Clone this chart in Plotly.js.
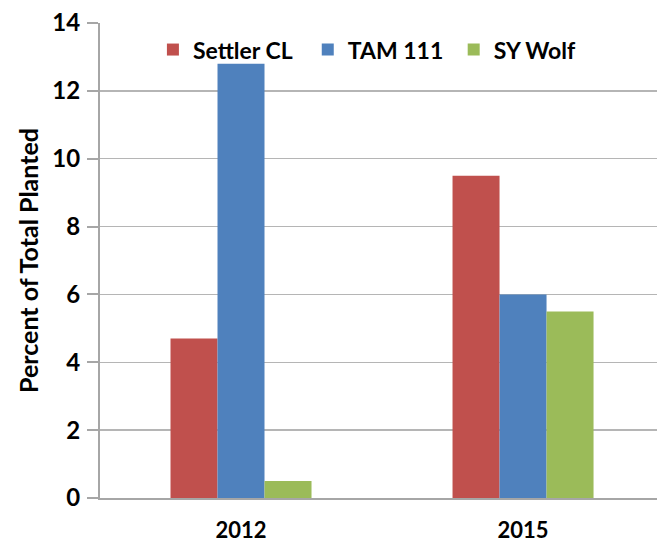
<!DOCTYPE html>
<html>
<head>
<meta charset="utf-8">
<script src="https://cdn.plot.ly/plotly-3.0.1.min.js"></script>
<style>html,body{margin:0;padding:0;background:#fff;}#chart{width:657px;height:546px;}</style>
</head>
<body>
<div id="chart"></div>
<script>
const years = ["2012", "2015"];
const seriesNames = ["Settler CL", "TAM 111", "SY Wolf"];
const settlerCL = [4.7, 9.5];
const tam111 = [12.8, 6.0];
const syWolf = [0.5, 5.5];
const colors = ["#C0504D", "#4F81BD", "#9BBB59"];
const yTicks = [0, 2, 4, 6, 8, 10, 12, 14];

const font = "Lato, 'Open Sans', sans-serif";
const values = [settlerCL, tam111, syWolf];
const legendIds = ["legend", "legend2", "legend3"];
const legendX = [0.095, 0.373, 0.635];

const traces = seriesNames.map((name, i) => ({
  type: "bar",
  name: name,
  x: years,
  y: values[i],
  legend: legendIds[i],
  marker: {color: colors[i], line: {width: 0}},
  hoverinfo: "x+y+name"
}));

const layout = {
  width: 657, height: 546,
  margin: {l: 100, r: 0, t: 23, b: 48},
  paper_bgcolor: "#fff", plot_bgcolor: "#fff",
  barmode: "group",
  bargap: 0.5,
  bargroupgap: 0,
  font: {family: font, color: "#000"},
  showlegend: true,
  xaxis: {
    type: "category",
    range: [-0.5, 1.475],
    showline: true, linecolor: "#a6a6a6", linewidth: 2,
    showgrid: false, ticks: "", zeroline: false,
    tickfont: {family: font, size: 22, color: "#000", weight: "bold"},
    ticklabelstandoff: 12,
    fixedrange: true
  },
  yaxis: {
    range: [0, 14],
    tickvals: yTicks,
    ticktext: yTicks.map(String),
    showline: true, linecolor: "#a6a6a6", linewidth: 2,
    showgrid: true, gridcolor: "#b5b5b5", gridwidth: 1.5,
    zeroline: false,
    ticks: "outside", ticklen: 11, tickwidth: 2, tickcolor: "#a6a6a6",
    tickfont: {family: font, size: 24, color: "#000", weight: "bold"},
    ticklabelstandoff: 2,
    title: {text: "Percent of Total Planted", font: {family: font, size: 25, color: "#000", weight: "bold"}, standoff: 7},
    fixedrange: true
  }
};
legendIds.forEach((id, i) => {
  layout[id] = {
    orientation: "h",
    x: legendX[i], y: 0.944, xanchor: "left", yanchor: "middle",
    font: {family: font, size: 23, color: "#000", weight: "bold"},
    bgcolor: "rgba(0,0,0,0)",
    itemwidth: 30
  };
});

Plotly.newPlot("chart", traces, layout, {displayModeBar: false, staticPlot: true});
</script>
</body>
</html>
